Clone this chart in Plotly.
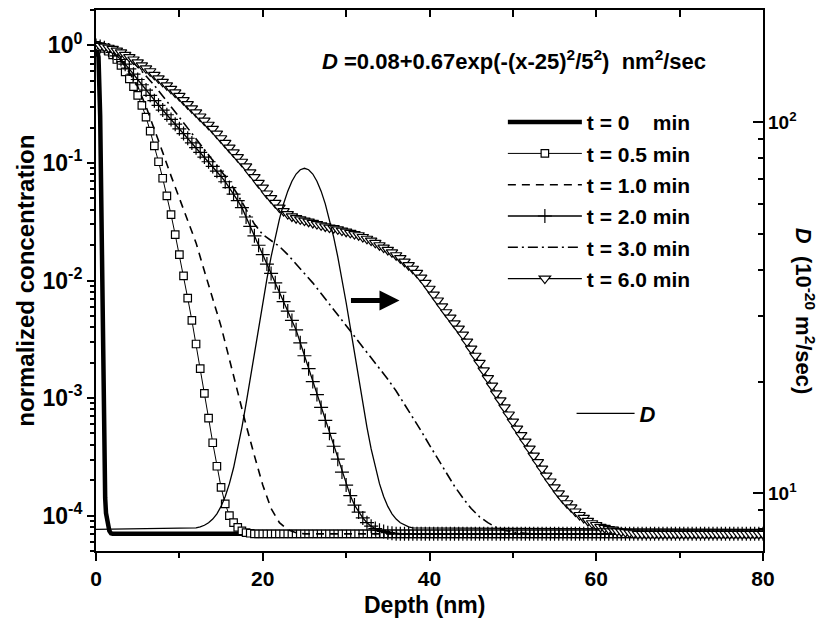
import numpy as np
import plotly.graph_objects as go

# ---------------- data ----------------
# depth sampling of the simulated profiles (nm), every 0.5 nm from 0 to 80
DEPTH = np.arange(0, 80.0001, 0.5)

# t = 0 min profile (thick line)
T0_X = [0, 0.3, 0.5, 0.6, 0.7, 0.8, 0.9, 1.0, 1.1, 1.2, 1.4, 1.6, 1.8, 2.0, 80]
T0_LOG = [0.0, -0.1, -0.6, -1.2, -1.9, -2.6, -3.2, -3.6, -3.85, -3.98, -4.08, -4.13, -4.15, -4.155, -4.155]

# t = 0.5 min (squares), log10(c) at DEPTH
T05_LOG = [
    0.0, -0.01, -0.025, -0.05, -0.08, -0.12, -0.17, -0.225, -0.285, -0.35,
    -0.425, -0.51, -0.61, -0.73, -0.855, -0.99, -1.13, -1.28, -1.44, -1.61,
    -1.78, -1.96, -2.15, -2.34, -2.54, -2.75, -2.96, -3.17, -3.38, -3.58,
    -3.76, -3.90, -4.00, -4.06, -4.10, -4.13, -4.145, -4.15,
    -4.155, -4.155, -4.155, -4.155, -4.155, -4.155, -4.155, -4.155, -4.155, -4.155,
    -4.155, -4.155, -4.155, -4.155, -4.155, -4.155, -4.155, -4.155, -4.155, -4.155,
    -4.155, -4.155, -4.155, -4.155, -4.155, -4.155, -4.155, -4.155, -4.155, -4.155,
    -4.155, -4.155, -4.155, -4.155, -4.155, -4.155, -4.155, -4.155, -4.155, -4.155,
    -4.155, -4.155, -4.155, -4.155, -4.155, -4.155, -4.155, -4.155, -4.155, -4.155,
    -4.155, -4.155, -4.155, -4.155, -4.155, -4.155, -4.155, -4.155, -4.155, -4.155,
    -4.155, -4.155, -4.155, -4.155, -4.155, -4.155, -4.155, -4.155, -4.155, -4.155,
    -4.155, -4.155, -4.155, -4.155, -4.155, -4.155, -4.155, -4.155, -4.155, -4.155,
    -4.155, -4.155, -4.155, -4.155, -4.155, -4.155, -4.155, -4.155, -4.155, -4.155,
    -4.155, -4.155, -4.155, -4.155, -4.155, -4.155, -4.155, -4.155, -4.155, -4.155,
    -4.155, -4.155, -4.155, -4.155, -4.155, -4.155, -4.155, -4.155, -4.155, -4.155,
    -4.155, -4.155, -4.155, -4.155, -4.155, -4.155, -4.155, -4.155, -4.155, -4.155,
    -4.155, -4.155, -4.155,
]

# t = 1.0 min (dashed line)
T1_X = [0, 1, 2, 3, 4, 5, 6, 7, 8, 9, 10, 11, 12, 13, 14, 15, 16, 17, 18, 19,
        20, 21, 22, 23, 24, 25, 80]
T1_LOG = [0.0, -0.02, -0.06, -0.13, -0.23, -0.35, -0.52, -0.71, -0.91, -1.11,
          -1.30, -1.48, -1.68, -1.92, -2.15, -2.39, -2.67, -2.96, -3.23, -3.49,
          -3.74, -3.94, -4.06, -4.12, -4.145, -4.155, -4.155]

# t = 2.0 min (plus markers), log10(c) at DEPTH
T2_LOG = [
    0.0, -0.01, -0.02, -0.04, -0.06, -0.09, -0.12, -0.16, -0.20, -0.245,
    -0.29, -0.335, -0.38, -0.425, -0.47, -0.51, -0.55, -0.59, -0.63, -0.67,
    -0.71, -0.75, -0.79, -0.83, -0.87, -0.91, -0.95, -0.99, -1.03, -1.07,
    -1.115, -1.16, -1.21, -1.265, -1.32, -1.38, -1.46, -1.54, -1.62, -1.70,
    -1.78, -1.86, -1.94, -2.02, -2.10, -2.18, -2.26, -2.34, -2.42, -2.53,
    -2.64, -2.75, -2.86, -2.97, -3.08, -3.19, -3.30, -3.41, -3.52, -3.63,
    -3.74, -3.83, -3.91, -3.97, -4.02, -4.06, -4.09, -4.11, -4.125, -4.135,
    -4.145, -4.15,
    -4.155, -4.155, -4.155, -4.155, -4.155, -4.155, -4.155, -4.155, -4.155, -4.155,
    -4.155, -4.155, -4.155, -4.155, -4.155, -4.155, -4.155, -4.155, -4.155, -4.155,
    -4.155, -4.155, -4.155, -4.155, -4.155, -4.155, -4.155, -4.155, -4.155, -4.155,
    -4.155, -4.155, -4.155, -4.155, -4.155, -4.155, -4.155, -4.155, -4.155, -4.155,
    -4.155, -4.155, -4.155, -4.155, -4.155, -4.155, -4.155, -4.155, -4.155, -4.155,
    -4.155, -4.155, -4.155, -4.155, -4.155, -4.155, -4.155, -4.155, -4.155, -4.155,
    -4.155, -4.155, -4.155, -4.155, -4.155, -4.155, -4.155, -4.155, -4.155, -4.155,
    -4.155, -4.155, -4.155, -4.155, -4.155, -4.155, -4.155, -4.155, -4.155, -4.155,
    -4.155, -4.155, -4.155, -4.155, -4.155, -4.155, -4.155, -4.155, -4.155,
]

# t = 3.0 min (dash-dot line)
T3_X = [0, 1, 2, 3, 4, 5, 6, 7, 8, 9, 10, 11, 12, 13, 14, 15, 16, 17, 18, 19,
        20, 21, 22, 23, 24, 25, 26, 27, 28, 29, 30, 31, 32, 33, 34, 35, 36, 37,
        38, 39, 40, 41, 42, 43, 44, 45, 46, 47, 48, 49, 50, 51, 52, 80]
T3_LOG = [0.0, -0.01, -0.03, -0.07, -0.12, -0.18, -0.26, -0.34, -0.43, -0.52,
          -0.61, -0.70, -0.79, -0.88, -0.97, -1.06, -1.16, -1.27, -1.39, -1.52,
          -1.61, -1.66, -1.71, -1.78, -1.86, -1.94, -2.02, -2.11, -2.20, -2.29,
          -2.38, -2.47, -2.56, -2.65, -2.74, -2.84, -2.94, -3.05, -3.16, -3.28,
          -3.40, -3.52, -3.64, -3.75, -3.85, -3.94, -4.01, -4.06, -4.10, -4.125,
          -4.14, -4.15, -4.155, -4.155]

# t = 6.0 min (triangles), log10(c) at DEPTH
T6_LOG = [
    0.0, -0.005, -0.01, -0.02, -0.03, -0.045, -0.06, -0.08, -0.10, -0.12,
    -0.145, -0.17, -0.195, -0.22, -0.25, -0.28, -0.31, -0.34, -0.37, -0.40,
    -0.43, -0.465, -0.50, -0.535, -0.57, -0.605, -0.64, -0.675, -0.71, -0.75,
    -0.79, -0.83, -0.87, -0.91, -0.95, -0.99, -1.03, -1.08, -1.12, -1.17,
    -1.21, -1.26, -1.30, -1.34, -1.38, -1.41, -1.435, -1.455, -1.47, -1.48,
    -1.49, -1.50, -1.51, -1.52, -1.53, -1.54, -1.55, -1.555, -1.565, -1.575,
    -1.585, -1.595, -1.605, -1.615, -1.63, -1.645, -1.66, -1.68, -1.70, -1.72,
    -1.74, -1.76, -1.785, -1.81, -1.84, -1.87, -1.90, -1.935, -1.975, -2.02,
    -2.07, -2.12, -2.17, -2.22, -2.27, -2.315, -2.365, -2.41, -2.46, -2.52,
    -2.58, -2.64, -2.70, -2.765, -2.83, -2.895, -2.96, -3.02, -3.08, -3.14,
    -3.20, -3.26, -3.315, -3.37, -3.43, -3.49, -3.545, -3.60, -3.66, -3.71,
    -3.76, -3.81, -3.855, -3.895, -3.93, -3.965, -3.995, -4.02, -4.045, -4.065,
    -4.08, -4.095, -4.105, -4.115, -4.12, -4.13, -4.135, -4.14, -4.145, -4.15,
    -4.155, -4.155, -4.155, -4.155, -4.155, -4.155, -4.155, -4.155, -4.155, -4.155,
    -4.155, -4.155, -4.155, -4.155, -4.155, -4.155, -4.155, -4.155, -4.155, -4.155,
    -4.155, -4.155, -4.155, -4.155, -4.155, -4.155, -4.155, -4.155, -4.155, -4.155,
    -4.155,
]

# diffusivity D (10^-20 m^2/s), right axis
D_X = [0, 12, 12.5, 13, 13.5, 14, 14.5, 15, 15.5, 16, 16.5, 17, 17.5, 18, 18.5,
       19, 19.5, 20, 20.5, 21, 21.5, 22, 22.5, 23, 23.5, 24, 24.5, 25, 25.5,
       26, 26.5, 27, 27.5, 28, 28.5, 29, 29.5, 30, 30.5, 31, 31.5, 32, 32.5,
       33, 33.5, 34, 34.5, 35, 35.5, 36, 36.5, 37, 37.5, 38, 80]
D_VAL = [8.0, 8.078, 8.129, 8.211, 8.338, 8.530, 8.814, 9.227, 9.812, 10.624,
         11.724, 13.180, 15.062, 17.439, 20.363, 23.873, 27.980, 32.649, 37.809,
         43.329, 49.044, 54.746, 60.180, 65.093, 69.231, 72.373, 74.333, 75.0,
         74.333, 72.373, 69.231, 65.093, 60.180, 54.746, 49.044, 43.329, 37.809,
         32.649, 27.980, 23.873, 20.363, 17.439, 15.062, 13.180, 11.724, 10.624,
         9.812, 9.227, 8.814, 8.530, 8.338, 8.211, 8.129, 8.078, 8.0]

NAMES = ["t = 0\u00a0\u00a0\u00a0\u00a0min", "t = 0.5 min", "t = 1.0 min",
         "t = 2.0 min", "t = 3.0 min", "t = 6.0 min"]

LEFT_TICKS = [1e-4, 1e-3, 1e-2, 1e-1, 1]
LEFT_TICKTEXT = ["10<sup>-4</sup>", "10<sup>-3</sup>", "10<sup>-2</sup>",
                 "10<sup>-1</sup>", "10<sup>0</sup>"]
RIGHT_TICKS = [10, 100]
RIGHT_TICKTEXT = ["10<sup>1</sup>", "10<sup>2</sup>"]
X_TICKS = [0, 20, 40, 60, 80]

# ---------------- figure ----------------
def lin(v):
    return [10 ** a for a in v]

FONT = "Liberation Sans"
fig = go.Figure()

fig.add_trace(go.Scatter(x=T0_X, y=lin(T0_LOG), mode="lines", name=NAMES[0],
                         legendgroup="a", line=dict(color="black", width=4.5)))
fig.add_trace(go.Scatter(x=DEPTH, y=lin(T05_LOG), mode="lines+markers", name=NAMES[1],
                         legendgroup="b", line=dict(color="black", width=1),
                         marker=dict(symbol="square", size=7.5, color="white",
                                     line=dict(color="black", width=1.2))))
fig.add_trace(go.Scatter(x=T1_X, y=lin(T1_LOG), mode="lines", name=NAMES[2],
                         legendgroup="c", line=dict(color="black", width=1.6, dash="8px,6px")))
fig.add_trace(go.Scatter(x=DEPTH, y=lin(T2_LOG), mode="lines+markers", name=NAMES[3],
                         legendgroup="d", line=dict(color="black", width=1.3),
                         marker=dict(symbol="cross-thin-open", size=10, color="black",
                                     line=dict(color="black", width=1.2))))
fig.add_trace(go.Scatter(x=T3_X, y=lin(T3_LOG), mode="lines", name=NAMES[4],
                         legendgroup="e", line=dict(color="black", width=1.6,
                                                    dash="10px,4px,2px,4px")))
fig.add_trace(go.Scatter(x=DEPTH, y=lin(T6_LOG), mode="lines+markers", name=NAMES[5],
                         legendgroup="f", line=dict(color="black", width=1.2),
                         marker=dict(symbol="triangle-down", size=10, color="white",
                                     line=dict(color="black", width=1.2))))
fig.add_trace(go.Scatter(x=D_X, y=D_VAL, mode="lines", name="<i>D</i>",
                         yaxis="y2", legend="legend2",
                         line=dict(color="black", width=1.3)))
# empty trace for the top tick axis
fig.add_trace(go.Scatter(x=[], y=[], xaxis="x2", showlegend=False))

left_minor = [d * 10.0 ** e for e in range(-5, 1) for d in range(2, 10)
              if 5e-5 <= d * 10.0 ** e <= 2]
right_minor = [7, 8, 9, 20, 30, 40, 50, 60, 70, 80, 90]

fig.update_layout(
    width=822, height=618,
    margin=dict(l=96, r=59, t=8, b=67),
    paper_bgcolor="white", plot_bgcolor="white",
    font=dict(family=FONT, color="black"),
    xaxis=dict(range=[0, 80], tickmode="array", tickvals=X_TICKS,
               ticks="outside", ticklen=8, tickwidth=2, tickcolor="black",
               minor=dict(tickvals=[10, 30, 50, 70], ticks="outside", ticklen=5,
                          tickwidth=1.5, tickcolor="black"),
               showline=True, linewidth=2, linecolor="black", mirror=True,
               showgrid=False, zeroline=False, ticklabelstandoff=0,
               tickfont=dict(family=FONT, size=21, weight="bold")),
    xaxis2=dict(range=[0, 80], overlaying="x", side="top", anchor="y",
                tickmode="array", tickvals=[10, 20, 30, 40, 50, 60, 70],
                ticks="inside", ticklen=7, tickwidth=1.5, tickcolor="black",
                showticklabels=False, showline=False, showgrid=False, zeroline=False),
    yaxis=dict(type="log", range=[np.log10(5e-5), np.log10(2)],
               tickmode="array", tickvals=LEFT_TICKS, ticktext=LEFT_TICKTEXT,
               ticks="outside", ticklen=7, tickwidth=2, tickcolor="black",
               minor=dict(tickvals=left_minor, ticks="outside", ticklen=4,
                          tickwidth=1.5, tickcolor="black"),
               showline=True, linewidth=2, linecolor="black", mirror=True,
               showgrid=False, zeroline=False, ticklabelstandoff=0,
               tickfont=dict(family=FONT, size=23, weight="bold")),
    yaxis2=dict(type="log", range=[np.log10(7), np.log10(200)], overlaying="y",
                side="right", anchor="x", tickmode="array", tickvals=RIGHT_TICKS,
                ticktext=RIGHT_TICKTEXT, ticks="inside", ticklen=10, tickwidth=1.5,
                tickcolor="black", ticklabelstandoff=4,
                minor=dict(tickvals=right_minor, ticks="inside", ticklen=5,
                           tickwidth=1.5, tickcolor="black"),
                showline=False, showgrid=False, zeroline=False,
                tickfont=dict(family=FONT, size=19, weight="bold")),
    legend=dict(x=0.61, y=0.83, xanchor="left", yanchor="top",
                bgcolor="rgba(0,0,0,0)", traceorder="grouped", tracegroupgap=1,
                itemwidth=74, font=dict(family=FONT, size=21, weight="bold")),
    legend2=dict(x=0.713, y=0.254, xanchor="left", yanchor="middle",
                 bgcolor="rgba(0,0,0,0)", itemwidth=58,
                 font=dict(family=FONT, size=22, weight="bold")),
    showlegend=True,
)

fig.add_annotation(text="<i>D</i> =0.08+0.67exp(-(x-25)<sup>2</sup>/5<sup>2</sup>)\u00a0\u00a0nm<sup>2</sup>/sec",
                   xref="paper", yref="paper", x=0.627, y=0.908, xanchor="center",
                   yanchor="middle", showarrow=False,
                   font=dict(family=FONT, size=22, weight="bold"))
fig.add_annotation(text="normalized concentration", textangle=-90,
                   xref="paper", yref="paper", x=-0.107, y=0.499, xanchor="center",
                   yanchor="middle", showarrow=False,
                   font=dict(family=FONT, size=24, weight="bold"))
fig.add_annotation(text="<i>D</i>\u00a0\u00a0(10<sup>-20</sup> m<sup>2</sup>/sec)", textangle=90,
                   xref="paper", yref="paper", x=1.063, y=0.444, xanchor="center",
                   yanchor="middle", showarrow=False,
                   font=dict(family=FONT, size=22, weight="bold"))
fig.add_annotation(text="Depth (nm)", xref="paper", yref="paper", x=0.492, y=-0.1,
                   xanchor="center", yanchor="middle", showarrow=False,
                   font=dict(family=FONT, size=23, weight="bold"))

ARROW_TAIL = (30.4, -2.17)
ARROW_HEAD = (36.4, -2.17)
fig.add_annotation(x=ARROW_HEAD[0], y=ARROW_HEAD[1], ax=ARROW_TAIL[0], ay=ARROW_TAIL[1],
                   xref="x", yref="y", axref="x", ayref="y", text="",
                   showarrow=True, arrowhead=2, arrowsize=0.8, arrowwidth=5,
                   arrowcolor="black")

fig.write_html("out.html")
